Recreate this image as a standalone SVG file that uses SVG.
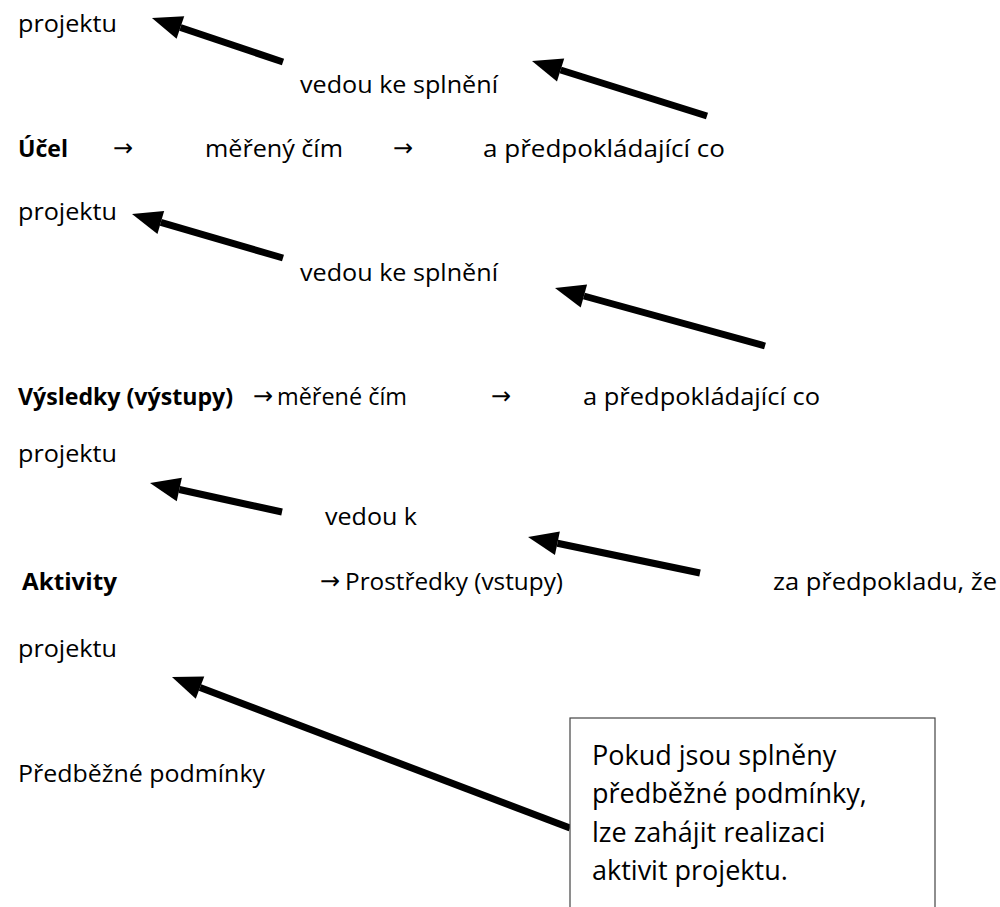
<svg xmlns="http://www.w3.org/2000/svg" width="1000" height="907" viewBox="0 0 1000 907">
  <style>
    .t { font-family: "Open Sans", "Noto Sans", sans-serif; font-size: 24px; fill: #000; }
    .b { font-weight: bold; }
    .ar { font-family: "DejaVu Sans", sans-serif; font-size: 24px; font-weight: normal; }
    .bx { font-family: "Open Sans", "Noto Sans", sans-serif; font-size: 27px; fill: #000; }
    .arr { stroke: #000; stroke-width: 7; fill: none; marker-end: url(#head); }
  </style>
  <defs>
    <marker id="head" viewBox="0 -13 30 26" refX="0" refY="0" markerWidth="30" markerHeight="26" markerUnits="userSpaceOnUse" orient="auto" overflow="visible">
      <path d="M0,-12 L30,0 L0,12 z" fill="#000"/>
    </marker>
  </defs>
  <rect width="1000" height="907" fill="#fff"/>

  <g id="connectors">
    <line class="arr" x1="283" y1="62" x2="180.4" y2="27.5"/>
    <line class="arr" x1="707" y1="116" x2="560.6" y2="70"/>
    <line class="arr" x1="283" y1="258" x2="160.8" y2="222.4"/>
    <line class="arr" x1="765" y1="346" x2="583.9" y2="296"/>
    <line class="arr" x1="282" y1="512" x2="179.3" y2="489.5"/>
    <line class="arr" x1="700" y1="573" x2="557.4" y2="543.2"/>
    <line class="arr" x1="570" y1="828" x2="200" y2="687.6"/>
  </g>

  <g id="row1">
    <text class="t" x="18" y="32" textLength="99" lengthAdjust="spacingAndGlyphs">projektu</text>
    <text class="t" x="300" y="93" textLength="198" lengthAdjust="spacingAndGlyphs">vedou ke splnění</text>
    <text class="t b" x="18" y="157" textLength="50" lengthAdjust="spacingAndGlyphs">Účel</text>
    <text class="t ar" x="113" y="156">→</text>
    <text class="t" x="205" y="157" textLength="138" lengthAdjust="spacingAndGlyphs">měřený čím</text>
    <text class="t ar" x="393" y="156">→</text>
    <text class="t" x="483" y="157" textLength="242" lengthAdjust="spacingAndGlyphs">a předpokládající co</text>
  </g>

  <g id="row2">
    <text class="t" x="18" y="220" textLength="99" lengthAdjust="spacingAndGlyphs">projektu</text>
    <text class="t" x="300" y="281" textLength="198" lengthAdjust="spacingAndGlyphs">vedou ke splnění</text>
    <text class="t b" x="18" y="405" textLength="215" lengthAdjust="spacingAndGlyphs">Výsledky (výstupy)</text>
    <text class="t ar" x="253" y="404">→</text>
    <text class="t" x="277" y="405" textLength="130" lengthAdjust="spacingAndGlyphs">měřené čím</text>
    <text class="t ar" x="491" y="404">→</text>
    <text class="t" x="583" y="405" textLength="237" lengthAdjust="spacingAndGlyphs">a předpokládající co</text>
  </g>

  <g id="row3">
    <text class="t" x="18" y="462" textLength="99" lengthAdjust="spacingAndGlyphs">projektu</text>
    <text class="t" x="325" y="525" textLength="92" lengthAdjust="spacingAndGlyphs">vedou k</text>
    <text class="t b" x="22" y="590" textLength="95" lengthAdjust="spacingAndGlyphs">Aktivity</text>
    <text class="t ar" x="320" y="589">→</text>
    <text class="t" x="345" y="590" textLength="218" lengthAdjust="spacingAndGlyphs">Prostředky (vstupy)</text>
    <text class="t" x="773" y="590" textLength="224" lengthAdjust="spacingAndGlyphs">za předpokladu, že</text>
  </g>

  <g id="row4">
    <text class="t" x="18" y="657" textLength="99" lengthAdjust="spacingAndGlyphs">projektu</text>
    <text class="t" x="18" y="782" textLength="247" lengthAdjust="spacingAndGlyphs">Předběžné podmínky</text>
  </g>

  <g id="note">
    <rect x="570" y="718" width="365" height="200" fill="#fff" stroke="#444" stroke-width="1.2"/>
    <text class="bx" x="592" y="765">Pokud jsou splněny</text>
    <text class="bx" x="592" y="803">předběžné podmínky,</text>
    <text class="bx" x="592" y="842">lze zahájit realizaci</text>
    <text class="bx" x="592" y="880">aktivit projektu.</text>
  </g>
</svg>
